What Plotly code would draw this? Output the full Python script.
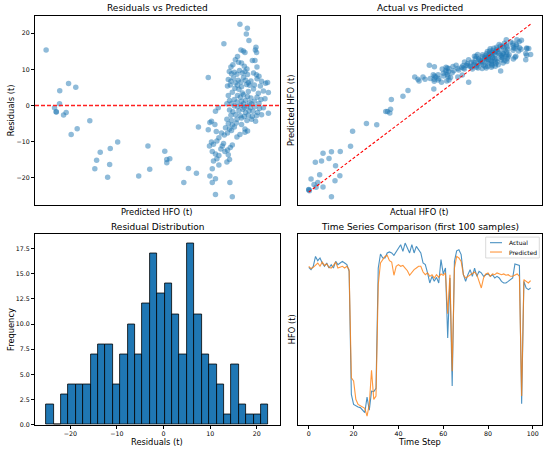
import numpy as np
import plotly.graph_objects as go
from plotly.subplots import make_subplots

# --- data ---
# test set: predicted HFO and residuals (actual - predicted)
pred_hfo = [
    40.0, 44.2, 45.0, 45.1, 46.8, 46.7, 48.7, 50.0, 51.2, 54.8, 52.5, 55.5, 61.8, 64.3, 65.2, 67.0,
    70.7, 71.7, 72.0, 75.7, 86.2, 90.8, 91.7, 99.2, 100.2, 100.2, 101.7, 108.7, 111.0, 115.0, 116.0,
    136.7, 140.4, 139.9, 141.2, 128.7, 137.2, 138.4, 139.2, 144.7, 144.4, 145.0, 135.5, 134.4, 136.0,
    133.2, 142.9, 144.2, 132.2, 138.9, 140.2, 145.2, 137.5,
    131.4, 132.5, 133.9, 135.2, 136.5, 137.9, 139.2, 140.5, 143.5, 144.9, 146.2, 130.9, 132.2, 133.5,
    134.5, 135.9, 137.2, 138.5, 139.5, 140.9, 142.2, 145.2, 147.5, 149.5, 150.5, 130.5, 131.9, 135.5,
    137.5, 141.5, 143.9, 146.9, 140.0, 120.9,
    134.2, 136.2, 143.5, 150.9, 148.4, 132.9, 137.9, 140.9, 145.9, 130.9, 135.5, 136.9, 138.5, 140.5,
    142.2, 145.2, 147.2, 149.2, 131.5, 133.9, 135.2, 137.5, 139.5, 141.5, 143.9, 146.2, 130.2, 132.5,
    138.5, 142.5,
    125.9, 133.9, 135.5, 137.2, 138.9, 140.2, 141.9, 144.2, 146.5, 148.4, 124.5, 131.5, 133.2, 136.2,
    138.2, 139.5, 141.2, 143.2, 145.5, 150.9, 132.2, 134.5, 136.9, 138.9, 140.9, 142.9, 144.9, 147.5,
    130.2, 132.5, 135.2, 137.5, 140.2, 142.5, 144.5, 122.5,
    121.7, 124.2, 130.9, 132.9, 134.9, 137.5, 139.2, 140.5, 129.5, 131.5, 133.9, 124.9, 127.5, 128.9,
    135.2, 139.2, 126.2, 130.5, 132.5, 120.9, 136.7,
    122.5, 123.5, 121.5, 125.2, 127.9, 129.2, 130.5, 131.9, 132.9, 122.9, 124.5, 126.2, 127.2, 130.9,
    128.5,
    123.5, 125.2, 126.2, 130.2, 131.5, 122.9,
    121.7, 122.9, 124.5, 124.5, 131.7, 132.9,
]
residuals = [
    15.4, -0.6, -1.7, -1.8, 4.1, 0.5, -2.6, -1.9, 6.1, 5.1, -8.0, -6.4, -4.2, -17.5, -15.1, -12.9,
    -19.8, -16.3, -11.9, -10.1, -19.5, -11.2, -17.6, -12.6, -14.9, -15.8, -14.7, -21.3, -17.4, -18.7, -5.9,
    22.5, 21.4, 19.8, 18.0, 17.1, 15.4, 15.1, 14.7, 16.1, 15.4, 14.7, 13.6, 12.7, 12.0,
    11.3, 12.5, 12.5, 10.7, 10.9, 10.1, 10.7, 11.8,
    9.4, 8.8, 9.2, 8.7, 9.7, 9.0, 9.4, 8.6, 9.0, 8.5, 8.1, 7.2, 6.7, 7.6,
    6.3, 7.0, 6.5, 7.8, 7.0, 6.3, 6.8, 7.4, 6.7, 6.2, 6.4, 5.4, 5.7, 5.6,
    5.2, 5.6, 5.7, 5.4, 5.8, 7.8,
    4.8, 4.5, 4.6, 3.6, 4.0, 3.7, 3.5, 3.9, 3.4, 2.8, 2.8, 2.3, 3.0, 2.5,
    2.1, 2.3, 1.7, 1.9, 1.4, 1.7, 1.0, 1.2, 1.5, 0.8, 1.2, 0.6, 0.5, 0.6,
    0.5, 0.5,
    -0.6, -0.1, -0.3, 0.1, -0.5, -0.1, -0.6, -0.3, -0.8, -0.6, -1.6, -1.2, -1.7, -1.4,
    -1.0, -1.9, -1.4, -1.6, -1.9, -2.1, -2.7, -2.5, -2.8, -3.0, -2.7, -3.0, -2.8, -2.5,
    -3.8, -4.1, -3.8, -3.4, -4.1, -3.8, -4.3, -4.3,
    -4.7, -5.2, -5.0, -5.4, -4.8, -5.2, -6.5, -7.0, -6.1, -6.5, -5.9, -7.2, -7.6, -8.1,
    -8.7, -7.4, -8.9, -7.6, -6.9, -6.7, -8.0,
    -10.1, -10.7, -11.2, -9.8, -11.2, -12.7, -12.3, -11.6, -10.9, -12.7, -13.4, -13.8, -12.0, -13.6,
    -10.5,
    -15.3, -14.7, -16.4, -15.6, -14.9, -17.5,
    -19.5, -21.3, -20.2, -24.6, -21.3, -25.2,
]

# histogram of residuals, 30 bins
hist_counts = [2, 0, 3, 4, 4, 4, 7, 8, 8, 4, 7, 10, 7, 12, 17, 13, 14, 11, 7, 18,
               11, 7, 6, 4, 1, 6, 2, 1, 1, 2]

# first 100 samples of the test set
ts_actual = [
    145.8, 144.2, 146.5, 153.2, 150.3, 152.1, 148.7, 146.5, 148.7, 145.3,
    147.6, 145.3, 149.8, 147.6, 148.7, 149.8, 148.7, 147.6, 143.1, 59.8,
    53.0, 51.9, 51.2, 50.8, 49.2, 47.4, 58.0, 49.0, 62.0, 61.6,
    63.8, 145.3, 154.8, 152.1, 152.1, 155.5, 156.2, 155.5, 153.9, 156.6,
    158.9, 161.1, 156.6, 162.2, 158.9, 155.5, 161.1, 155.5, 160.0, 157.7,
    155.5, 148.7, 147.6, 142.0, 135.2, 139.7, 136.3, 139.0, 135.2, 151.0,
    141.3, 145.3, 98.0, 138.6, 65.4, 149.8, 157.0, 157.7, 154.4, 140.8,
    136.3, 140.8, 144.2, 139.7, 145.3, 139.7, 143.1, 142.0, 139.7, 140.8,
    141.3, 139.7, 140.8, 138.6, 139.7, 138.6, 136.3, 135.2, 135.2, 136.3,
    137.5, 138.6, 148.0, 147.6, 147.1, 53.5, 136.3, 131.8, 130.7, 131.8,
]
ts_predicted = [
    146.5, 144.9, 145.8, 147.6, 148.7, 146.5, 149.4, 147.1, 148.0, 145.8,
    145.3, 147.1, 149.4, 145.3, 145.8, 146.5, 145.3, 146.5, 144.2, 71.0,
    68.8, 56.4, 53.0, 51.9, 50.8, 50.3, 45.1, 53.0, 76.0, 56.4,
    58.6, 134.1, 148.7, 151.0, 153.2, 153.9, 150.3, 149.4, 140.4, 146.5,
    147.6, 146.5, 147.1, 145.3, 143.5, 140.4, 142.6, 144.2, 145.3, 146.5,
    146.5, 142.6, 140.8, 142.0, 139.7, 140.8, 138.6, 140.8, 139.0, 141.3,
    140.4, 142.0, 114.3, 140.8, 75.5, 145.3, 153.2, 152.1, 149.8, 140.8,
    138.6, 139.7, 140.8, 142.0, 142.6, 140.8, 136.3, 131.8, 138.6, 141.3,
    142.0, 139.7, 141.3, 140.8, 142.0, 141.3, 140.8, 141.3, 140.4, 140.8,
    139.7, 139.7, 140.8, 141.3, 139.7, 58.6, 137.5, 136.3, 135.2, 136.8,
]
series_names = ['Actual', 'Predicted']

BLUE = '#1f77b4'
ORANGE = '#ff7f0e'
W, H = 550, 454
FONT = 'DejaVu Sans'


def pad(lo, hi, frac=0.05):
    d = (hi - lo) * frac
    return [lo - d, hi + d]


pred = np.array(pred_hfo)
resid = np.array(residuals)
actual = pred + resid

edges = np.linspace(resid.min(), resid.max(), len(hist_counts) + 1)
centers = (edges[:-1] + edges[1:]) / 2
bw = edges[1] - edges[0]

fig = make_subplots(rows=2, cols=2)

# Residuals vs Predicted
fig.add_trace(go.Scatter(x=pred, y=resid, mode='markers', showlegend=False,
                         marker=dict(color=BLUE, size=5.5, opacity=0.5, line_width=0)),
              row=1, col=1)
x1r = pad(pred.min(), pred.max())
fig.add_trace(go.Scatter(x=x1r, y=[0, 0], mode='lines', showlegend=False,
                         line=dict(color='#ff2020', width=1.5, dash='4px,2px')),
              row=1, col=1)

# Actual vs Predicted
fig.add_trace(go.Scatter(x=actual, y=pred, mode='markers', showlegend=False,
                         marker=dict(color=BLUE, size=5.5, opacity=0.5, line_width=0)),
              row=1, col=2)
fig.add_trace(go.Scatter(x=[actual.min(), actual.max()], y=[actual.min(), actual.max()],
                         mode='lines', showlegend=False,
                         line=dict(color='#ff0000', width=1.1, dash='3px,2px')),
              row=1, col=2)

# Residual distribution
fig.add_trace(go.Bar(x=centers, y=hist_counts, width=bw, showlegend=False,
                     marker=dict(color=BLUE, line=dict(color='black', width=0.8))),
              row=2, col=1)

# Time series
steps = np.arange(len(ts_actual))
fig.add_trace(go.Scatter(x=steps, y=ts_actual, mode='lines', name=series_names[0],
                         showlegend=False, line=dict(color=BLUE, width=1.1), opacity=0.8),
              row=2, col=2)
fig.add_trace(go.Scatter(x=steps, y=ts_predicted, mode='lines', name=series_names[1],
                         showlegend=False, line=dict(color=ORANGE, width=1.1), opacity=0.8),
              row=2, col=2)

# axes boxes in pixels (left, right, top, bottom)
boxes = {
    1: (35, 279.5, 15.7, 206.7),
    2: (297.7, 541.7, 15.7, 206.7),
    3: (35, 279.5, 236, 427.5),
    4: (297.7, 541.7, 236, 427.5),
}

axis_common = dict(showline=True, mirror=True, linecolor='black', linewidth=0.8,
                   showgrid=False, zeroline=False, ticks='outside', ticklen=3,
                   tickwidth=0.8, tickcolor='black',
                   tickfont=dict(family=FONT, size=6.3, color='black'))

ranges = {
    1: (x1r, pad(resid.min(), resid.max())),
    2: (pad(actual.min(), actual.max()),
        pad(min(pred.min(), actual.min()), max(pred.max(), actual.max()))),
    3: (pad(edges[0], edges[-1]), [0, max(hist_counts) * 1.05]),
    4: (pad(0, len(ts_actual) - 1),
        pad(min(min(ts_actual), min(ts_predicted)), max(max(ts_actual), max(ts_predicted)))),
}

for i, (l, r, t, b) in boxes.items():
    xr, yr = ranges[i]
    sfx = '' if i == 1 else str(i)
    fig.layout['xaxis' + sfx].update(domain=[l / W, r / W], range=xr, **axis_common)
    fig.layout['yaxis' + sfx].update(domain=[1 - b / H, 1 - t / H], range=yr, **axis_common)

# hidden ticks like the reference
fig.layout.xaxis.update(showticklabels=False, ticks='')
fig.layout.xaxis2.update(showticklabels=False, ticks='')
fig.layout.yaxis2.update(showticklabels=False, ticks='')
fig.layout.yaxis4.update(showticklabels=False, ticks='')
fig.layout.yaxis.update(tickvals=[-20, -10, 0, 10, 20])
fig.layout.xaxis3.update(tickvals=[-20, -10, 0, 10, 20])
fig.layout.yaxis3.update(dtick=2.5, tick0=0, tickformat='.1f')
fig.layout.xaxis4.update(dtick=20, tick0=0)


def label(text, px, py, size, angle=0, anchor='center'):
    fig.add_annotation(text=text, x=px / W, y=1 - py / H, xref='paper', yref='paper',
                       showarrow=False, xanchor=anchor, yanchor='middle', textangle=angle,
                       font=dict(family=FONT, size=size, color='black'))


# titles
label('Residuals vs Predicted', 157.2, 8.5, 9)
label('Actual vs Predicted', 419.7, 8.5, 9)
label('Residual Distribution', 157.2, 228.8, 9)
label('Time Series Comparison (first 100 samples)', 419.7, 228.8, 9)
# axis labels
label('Predicted HFO (t)', 157.2, 213, 8.3)
label('Residuals (t)', 11, 111, 8.3, -90)
label('Actual HFO (t)', 419.7, 213, 8.3)
label('Predicted HFO (t)', 290.8, 111, 8.3, -90)
label('Residuals (t)', 157.2, 444.5, 8.3)
label('Frequency', 10.5, 331.7, 8.3, -90)
label('Time Step', 419.7, 444.5, 8.3)
label('HFO (t)', 291.7, 331.7, 8.3, -90)

# compact legend box for the time series panel
fig.add_shape(type='rect', xref='paper', yref='paper',
              x0=485.7 / W, x1=539.3 / W, y0=1 - 259.7 / H, y1=1 - 238.7 / H,
              line=dict(color='#d0d0d0', width=0.8), fillcolor='rgba(255,255,255,0.8)')
for name, color, py in [(series_names[0], BLUE, 244.3), (series_names[1], ORANGE, 253.7)]:
    fig.add_shape(type='line', xref='paper', yref='paper',
                  x0=490 / W, x1=502 / W, y0=1 - py / H, y1=1 - py / H,
                  line=dict(color=color, width=1.1), opacity=0.8)
    label(name, 506.5, py, 6, anchor='left')

fig.update_layout(
    width=W, height=H, autosize=False,
    margin=dict(l=0, r=0, t=0, b=0),
    paper_bgcolor='white', plot_bgcolor='white',
    font=dict(family=FONT, size=8, color='black'),
    bargap=0,
)

fig.write_html("out.html", config={'displayModeBar': False},
               post_script="document.body.style.margin='0';")
